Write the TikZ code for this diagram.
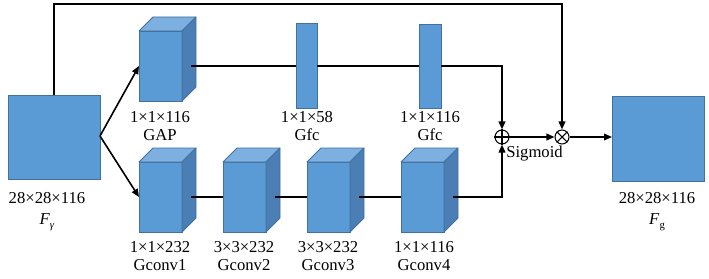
\documentclass[tikz,border=0pt]{standalone}
\usepackage{fontspec}
\setmainfont{Liberation Serif}
\usepackage{tikz}
\usetikzlibrary{arrows.meta}
\usetikzlibrary{positioning, calc}

\definecolor{facecol}{HTML}{5B9BD5}
\definecolor{sidecol}{HTML}{4A7EB4}
\definecolor{topcol}{HTML}{7DAFE0}
\definecolor{edgecol}{HTML}{41719C}

% cube block: front face is the named node, top and side faces drawn on it
\newcommand{\gcube}[2]{%
  \node[front] (#1) at (#2) {};
  \filldraw[topface] (#1.north west) -- ++(14,-14) -- ++(43,0) -- (#1.north east) -- cycle;
  \filldraw[sideface] (#1.north east) -- ++(14,-14) -- ++(0,70) -- (#1.south east) -- cycle;
}

\begin{document}
\begin{tikzpicture}[x=0.75pt, y=-0.75pt,
  front/.style={draw=edgecol, fill=facecol, line width=0.6pt, minimum width=32.25pt, minimum height=52.5pt, inner sep=0pt, outer sep=0pt},
  topface/.style={draw=edgecol, fill=topcol, line width=0.6pt, line join=round},
  sideface/.style={draw=edgecol, fill=sidecol, line width=0.6pt, line join=round},
  flat/.style={draw=edgecol, fill=facecol, line width=0.6pt, inner sep=0pt, outer sep=0pt},
  op/.style={circle, draw, line width=0.8pt, minimum size=10.5pt, inner sep=0pt},
  conn/.style={line width=1.2pt},
  arr/.style={conn, -{Triangle[length=6pt, width=5pt]}},
  lbl/.style={align=center, inner sep=0pt, font=\rmfamily\fontsize{12.5}{13.5}\selectfont}]
  \useasboundingbox (0,0) rectangle (709,278);

  % input and output feature maps
  \node[flat, minimum width=69pt, minimum height=63pt] (fgam) at (54,137) {};
  \node[flat, minimum width=69pt, minimum height=63.75pt] (fg) at (658,138.5) {};
  \node[lbl] (fgamlbl) at (47,211.5) {28×28×116\\[2pt]\textit{F}\raisebox{-0.5ex}{\footnotesize\textit{γ}}};
  \node[lbl] (fglbl) at (657,211.5) {28×28×116\\[2pt]\textit{F}\raisebox{-0.5ex}{\footnotesize g}};

  % attention branch
  \gcube{gap}{160.5,66}
  \node[flat, minimum width=15.75pt, minimum height=63.75pt] (gfca) at (306.5,65.5) {};
  \node[flat, minimum width=16.5pt, minimum height=63pt] (gfcb) at (430,66) {};

  % conv branch
  \gcube{gconva}{160.5,197}
  \gcube{gconvb}{244.5,197}
  \gcube{gconvc}{328.5,197}
  \gcube{gconvd}{422.5,197}

  \node[lbl] (gaplbl) at (160,126) {1×1×116\\GAP};
  \node[lbl] (gfcalbl) at (307,126) {1×1×58\\Gfc};
  \node[lbl] (gfcblbl) at (430,126) {1×1×116\\Gfc};
  \node[lbl] (gconvalbl) at (160,256.5) {1×1×232\\Gconv1};
  \node[lbl] (gconvblbl) at (244,256.5) {3×3×232\\Gconv2};
  \node[lbl] (gconvclbl) at (328,256.5) {3×3×232\\Gconv3};
  \node[lbl] (gconvdlbl) at (424,256.5) {1×1×116\\Gconv4};

  % add and multiply
  \node[op] (add) at (502,137) {};
  \draw[line width=0.8pt] (add.north) -- (add.south) (add.west) -- (add.east);
  \node[op] (mul) at (562,137) {};
  \draw[line width=0.8pt] (mul.north west) -- (mul.south east) (mul.north east) -- (mul.south west);
  \node[lbl, anchor=west] (sig) at (506,154) {Sigmoid};

  % connectors
  \coordinate (topright) at (562,4);
  \draw[arr] (fgam.north) |- (topright) -- (mul.north);
  \draw[arr] (100,136) -- (gap.west);
  \draw[arr] (100,136) -- (gconva.west);
  \draw[conn] ($(gap.east)+(9,0)$) -- (gfca.west |- gap.east);
  \draw[conn] (gfca.east |- gap.east) -- (gfcb.west |- gap.east);
  \draw[arr] (gfcb.east |- gap.east) -| (add.north);
  \draw[conn] ($(gconva.east)+(9,0)$) -- (gconvb.west);
  \draw[conn] ($(gconvb.east)+(9,0)$) -- (gconvc.west);
  \draw[conn] ($(gconvc.east)+(9,0)$) -- (gconvd.west);
  \draw[arr] ($(gconvd.east)+(9,0)$) -| (add.south);
  \draw[arr] (add.east) -- (mul.west);
  \draw[arr] (mul.east) -- (mul.east -| fg.west);
\end{tikzpicture}
\end{document}
